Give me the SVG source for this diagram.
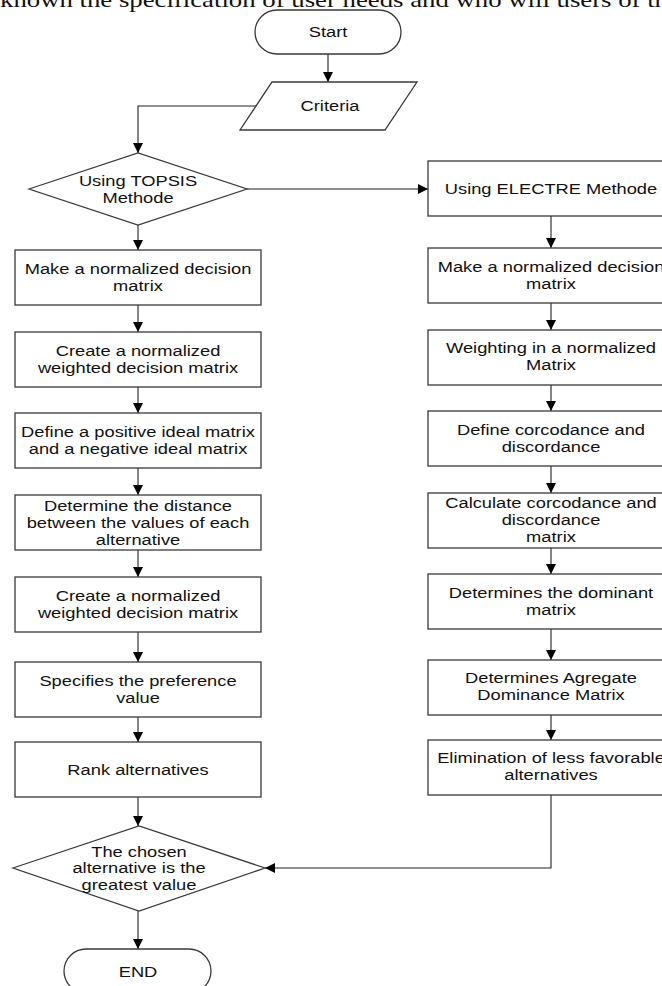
<svg xmlns="http://www.w3.org/2000/svg" width="662" height="986" viewBox="0 0 662 986">
<style>
.s{fill:#fff;stroke:#3a3a3a;stroke-width:1.3}
.c{fill:none;stroke:#222;stroke-width:1.1}
.t{font-family:"Liberation Sans",Arial,sans-serif;font-size:15px;fill:#111;text-anchor:middle}
.hd{font-family:"Liberation Serif","Times New Roman",serif;font-size:21px;fill:#111}
</style>
<defs>
<marker id="ah" viewBox="0 0 10 10" refX="10" refY="5" markerWidth="10" markerHeight="10" markerUnits="userSpaceOnUse" orient="auto">
<path d="M0,0 L10,5 L0,10 z" fill="#000"/>
</marker>
</defs>
<rect width="662" height="986" fill="#fff"/>
<text class="hd" x="0" y="7" textLength="668" lengthAdjust="spacingAndGlyphs">known the specification of user needs and who will users of th</text>

<g id="connectors">
<path class="c" d="M328,54 V82" marker-end="url(#ah)"/>
<path class="c" d="M256,106 H138 V153" marker-end="url(#ah)"/>
<path class="c" d="M247,189 H428" marker-end="url(#ah)"/>
<path class="c" d="M138,225 V250" marker-end="url(#ah)"/>
<path class="c" d="M138,305 V332" marker-end="url(#ah)"/>
<path class="c" d="M138,387 V413" marker-end="url(#ah)"/>
<path class="c" d="M138,468 V495" marker-end="url(#ah)"/>
<path class="c" d="M138,550 V577" marker-end="url(#ah)"/>
<path class="c" d="M138,632 V662" marker-end="url(#ah)"/>
<path class="c" d="M138,717 V742" marker-end="url(#ah)"/>
<path class="c" d="M138,797 V826" marker-end="url(#ah)"/>
<path class="c" d="M138,911 V949" marker-end="url(#ah)"/>
<path class="c" d="M551,216 V248" marker-end="url(#ah)"/>
<path class="c" d="M551,303 V330" marker-end="url(#ah)"/>
<path class="c" d="M551,385 V411" marker-end="url(#ah)"/>
<path class="c" d="M551,466 V493" marker-end="url(#ah)"/>
<path class="c" d="M551,548 V574" marker-end="url(#ah)"/>
<path class="c" d="M551,629 V660" marker-end="url(#ah)"/>
<path class="c" d="M551,715 V740" marker-end="url(#ah)"/>
<path class="c" d="M551,795 V868 H265" marker-end="url(#ah)"/>
</g>

<g id="start">
<rect class="s" x="255" y="10" width="146" height="44" rx="22"/>
<text class="t" transform="translate(328,37) scale(1.22,1)">Start</text>
</g>
<g id="criteria">
<polygon class="s" points="272,82 417,82 385,130 240,130"/>
<text class="t" transform="translate(330,111) scale(1.22,1)">Criteria</text>
</g>
<g id="topsis">
<polygon class="s" points="29,189 138,153 247,189 138,225"/>
<text class="t" transform="translate(138,186) scale(1.22,1)"><tspan x="0">Using TOPSIS</tspan><tspan x="0" dy="17">Methode</tspan></text>
</g>

<g id="l1">
<rect class="s" x="15" y="250" width="246" height="55"/>
<text class="t" transform="translate(138,274) scale(1.22,1)"><tspan x="0">Make a normalized decision</tspan><tspan x="0" dy="17">matrix</tspan></text>
</g>
<g id="l2">
<rect class="s" x="15" y="332" width="246" height="55"/>
<text class="t" transform="translate(138,356) scale(1.22,1)"><tspan x="0">Create a normalized</tspan><tspan x="0" dy="17">weighted decision matrix</tspan></text>
</g>
<g id="l3">
<rect class="s" x="15" y="413" width="246" height="55"/>
<text class="t" transform="translate(138,437) scale(1.22,1)"><tspan x="0">Define a positive ideal matrix</tspan><tspan x="0" dy="17">and a negative ideal matrix</tspan></text>
</g>
<g id="l4">
<rect class="s" x="15" y="495" width="246" height="55"/>
<text class="t" transform="translate(138,511) scale(1.22,1)"><tspan x="0">Determine the distance</tspan><tspan x="0" dy="17">between the values of each</tspan><tspan x="0" dy="17">alternative</tspan></text>
</g>
<g id="l5">
<rect class="s" x="15" y="577" width="246" height="55"/>
<text class="t" transform="translate(138,601) scale(1.22,1)"><tspan x="0">Create a normalized</tspan><tspan x="0" dy="17">weighted decision matrix</tspan></text>
</g>
<g id="l6">
<rect class="s" x="15" y="662" width="246" height="55"/>
<text class="t" transform="translate(138,686) scale(1.22,1)"><tspan x="0">Specifies the preference</tspan><tspan x="0" dy="17">value</tspan></text>
</g>
<g id="l7">
<rect class="s" x="15" y="742" width="246" height="55"/>
<text class="t" transform="translate(138,775) scale(1.22,1)">Rank alternatives</text>
</g>

<g id="r1">
<rect class="s" x="428" y="161" width="246" height="55"/>
<text class="t" transform="translate(551,194) scale(1.22,1)">Using ELECTRE Methode</text>
</g>
<g id="r2">
<rect class="s" x="428" y="248" width="246" height="55"/>
<text class="t" transform="translate(551,272) scale(1.22,1)"><tspan x="0">Make a normalized decision</tspan><tspan x="0" dy="17">matrix</tspan></text>
</g>
<g id="r3">
<rect class="s" x="428" y="330" width="246" height="55"/>
<text class="t" transform="translate(551,353) scale(1.22,1)"><tspan x="0">Weighting in a normalized</tspan><tspan x="0" dy="17">Matrix</tspan></text>
</g>
<g id="r4">
<rect class="s" x="428" y="411" width="246" height="55"/>
<text class="t" transform="translate(551,435) scale(1.22,1)"><tspan x="0">Define corcodance and</tspan><tspan x="0" dy="17">discordance</tspan></text>
</g>
<g id="r5">
<rect class="s" x="428" y="493" width="246" height="55"/>
<text class="t" transform="translate(551,508) scale(1.22,1)"><tspan x="0">Calculate corcodance and</tspan><tspan x="0" dy="17">discordance</tspan><tspan x="0" dy="17">matrix</tspan></text>
</g>
<g id="r6">
<rect class="s" x="428" y="574" width="246" height="55"/>
<text class="t" transform="translate(551,598) scale(1.22,1)"><tspan x="0">Determines the dominant</tspan><tspan x="0" dy="17">matrix</tspan></text>
</g>
<g id="r7">
<rect class="s" x="428" y="660" width="246" height="55"/>
<text class="t" transform="translate(551,683) scale(1.22,1)"><tspan x="0">Determines Agregate</tspan><tspan x="0" dy="17">Dominance Matrix</tspan></text>
</g>
<g id="r8">
<rect class="s" x="428" y="740" width="246" height="55"/>
<text class="t" transform="translate(551,763) scale(1.22,1)"><tspan x="0">Elimination of less favorable</tspan><tspan x="0" dy="17">alternatives</tspan></text>
</g>

<g id="chosen">
<polygon class="s" points="13,868 139,826 265,868 139,911"/>
<text class="t" transform="translate(139,857) scale(1.22,1)"><tspan x="0">The chosen</tspan><tspan x="0" dy="16.5">alternative is the</tspan><tspan x="0" dy="16.5">greatest value</tspan></text>
</g>
<g id="end">
<rect class="s" x="64" y="949" width="147" height="44" rx="22"/>
<text class="t" transform="translate(138,977) scale(1.22,1)">END</text>
</g>
</svg>
